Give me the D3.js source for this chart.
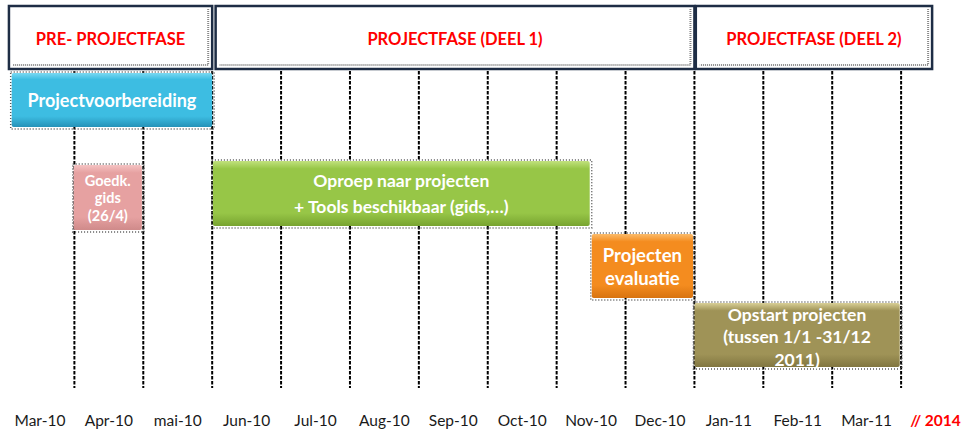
<!DOCTYPE html>
<html>
<head>
<meta charset="utf-8">
<script src="https://cdn.jsdelivr.net/npm/d3@7"></script>
<style>
  body { margin: 0; background: #fff; }
  svg text { font-family: Lato, "Open Sans", sans-serif; }
</style>
</head>
<body>
<svg class="gt-chart"></svg>
<script>
// months along the bottom (index = month number from Mar-10)
let months = ['Mar-10', 'Apr-10', 'mai-10', 'Jun-10', 'Jul-10', 'Aug-10', 'Sep-10',
  'Oct-10', 'Nov-10', 'Dec-10', 'Jan-11', 'Feb-11', 'Mar-11'];
let lastLabel = '// 2014';

// phases in the header row: [label, start month, end month]
let phaseNames = ['PRE- PROJECTFASE', 'PROJECTFASE  (DEEL 1)', 'PROJECTFASE (DEEL 2)'];
let phaseStart = [0.05, 3.05, 10.02];
let phaseEnd = [3.0, 10.0, 13.45];

// tasks: text lines, start, end, row
let taskLines = [
  ['Projectvoorbereiding'],
  ['Goedk.', 'gids', '(26/4)'],
  ['Oproep naar projecten', '+ Tools beschikbaar (gids,\u2026)'],
  ['Projecten', 'evaluatie'],
  ['Opstart projecten', '(tussen 1/1 -31/12', '2011)']
];
let taskStart = [0.09, 0.99, 3.01, 8.51, 10.0];
let taskEnd = [3.0, 1.98, 8.48, 9.98, 12.98];
let taskRow = [0, 1, 1, 2, 3];

let width = 967, height = 433;
let svg = d3.select('.gt-chart').attr('width', width).attr('height', height);

let x = d3.scaleLinear().domain([0, 14]).range([5.5, 970]);

// row layout (top, height)
let rowTop = [73, 161, 234, 303];
let rowH = [54, 65, 64, 64];

// colours per task: [top light, main, bottom dark]
let taskColors = [
  ['#7ad9f2', '#3dbde2', '#2592b8'],
  ['#f5c3c3', '#e6a1a1', '#cf8a8a'],
  ['#c2e27e', '#97c647', '#78a430'],
  ['#fbbb6a', '#f48c1f', '#d87310'],
  ['#d9cf96', '#9f9357', '#817640']
];
let textSize = [18, 14.5, 17.5, 18.5, 17.5];
let lineGap = [0, 17.5, 26, 23, 22.5];
let textShift = [0, 0, 0, 0, 1.5];

let defs = svg.append('defs');
taskColors.forEach(function (c, i) {
  let g = defs.append('linearGradient').attr('id', 'gt-grad' + i)
    .attr('x1', 0).attr('y1', 0).attr('x2', 0).attr('y2', 1);
  g.append('stop').attr('offset', '0%').attr('stop-color', c[0]);
  g.append('stop').attr('offset', '12%').attr('stop-color', c[1]);
  g.append('stop').attr('offset', '80%').attr('stop-color', c[1]);
  g.append('stop').attr('offset', '100%').attr('stop-color', c[2]);
});

// vertical dashed grid lines on month boundaries
svg.append('g').selectAll('line')
  .data(d3.range(1, 14))
  .enter().append('line')
  .attr('x1', d => x(d)).attr('x2', d => x(d))
  .attr('y1', 71).attr('y2', 388)
  .attr('stroke', '#000')
  .attr('stroke-width', 2)
  .attr('stroke-dasharray', '3.5,1.5');

// header boxes
let ph = svg.append('g').selectAll('g')
  .data(phaseNames)
  .enter().append('g');
ph.append('rect')
  .attr('x', (d, i) => x(phaseStart[i]))
  .attr('y', 6)
  .attr('width', (d, i) => x(phaseEnd[i]) - x(phaseStart[i]))
  .attr('height', 63)
  .attr('fill', '#fff')
  .attr('stroke', '#1e2d45')
  .attr('stroke-width', 2.5);
// dotted inner shadow on right and bottom
ph.append('path')
  .attr('d', (d, i) => {
    let x1 = x(phaseStart[i]) + 4, x2 = x(phaseEnd[i]) - 4;
    return 'M' + x2 + ',9 V' + 65 + ' H' + x1;
  })
  .attr('fill', 'none')
  .attr('stroke', '#8a8a8a')
  .attr('stroke-width', 2)
  .attr('stroke-dasharray', '1,1');
ph.append('text')
  .attr('x', (d, i) => (x(phaseStart[i]) + x(phaseEnd[i])) / 2)
  .attr('y', 38.5)
  .attr('text-anchor', 'middle')
  .attr('dominant-baseline', 'central')
  .attr('font-size', 16.5)
  .attr('font-weight', 'bold')
  .attr('fill', '#ff0000')
  .text(d => d);

// task bars
let tk = svg.append('g').selectAll('g')
  .data(taskLines)
  .enter().append('g');
let topOf = (i) => rowTop[taskRow[i]] + (i === 1 ? 4 : 0);
// dotted shadow
tk.append('rect')
  .attr('x', (d, i) => x(taskStart[i]) - 1)
  .attr('y', (d, i) => topOf(i) - 1)
  .attr('width', (d, i) => x(taskEnd[i]) - x(taskStart[i]) + 3)
  .attr('height', (d, i) => rowH[taskRow[i]] + 3)
  .attr('fill', 'none')
  .attr('stroke', '#555')
  .attr('stroke-width', 1.5)
  .attr('stroke-dasharray', '1,2');
tk.append('rect')
  .attr('x', (d, i) => x(taskStart[i]))
  .attr('y', (d, i) => topOf(i))
  .attr('width', (d, i) => x(taskEnd[i]) - x(taskStart[i]))
  .attr('height', (d, i) => rowH[taskRow[i]])
  .attr('rx', 2)
  .attr('fill', (d, i) => 'url(#gt-grad' + i + ')');
tk.append('text')
  .attr('text-anchor', 'middle')
  .attr('font-weight', 'bold')
  .attr('fill', '#fff')
  .attr('font-size', (d, i) => textSize[i])
  .each(function (lines, i) {
    let cx = (x(taskStart[i]) + x(taskEnd[i])) / 2;
    let cy = topOf(i) + rowH[taskRow[i]] / 2 + textShift[i];
    let y0 = cy - (lines.length - 1) * lineGap[i] / 2;
    d3.select(this).selectAll('tspan')
      .data(lines)
      .enter().append('tspan')
      .attr('x', cx)
      .attr('y', (l, j) => y0 + j * lineGap[i])
      .attr('dominant-baseline', 'central')
      .text(l => l);
  });

// month labels
let axis = svg.append('g');
axis.selectAll('text.gt-month')
  .data(months)
  .enter().append('text')
  .attr('class', 'gt-month')
  .attr('x', (d, i) => x(i + 0.5))
  .attr('y', 420)
  .attr('text-anchor', 'middle')
  .attr('dominant-baseline', 'central')
  .attr('font-size', 15.5)
  .attr('fill', '#1a1a1a')
  .text(d => d);
axis.append('text')
  .attr('x', x(months.length + 0.5))
  .attr('y', 420)
  .attr('text-anchor', 'middle')
  .attr('dominant-baseline', 'central')
  .attr('font-size', 15.5)
  .attr('font-weight', 'bold')
  .attr('fill', '#ff0000')
  .text(lastLabel);
</script>
</body>
</html>
